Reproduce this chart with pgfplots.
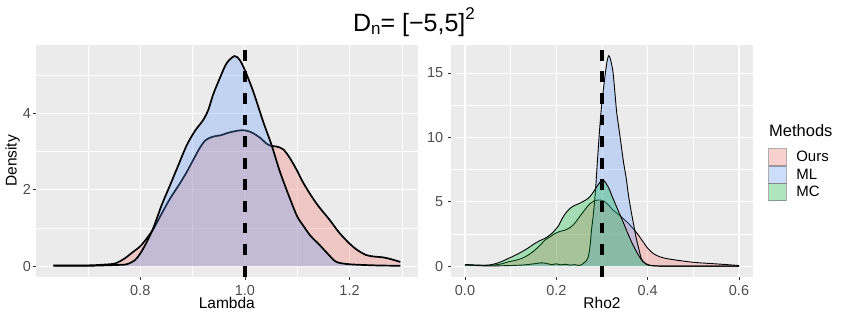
\documentclass[border=0pt]{standalone}
\usepackage{pgfplots}
\pgfplotsset{compat=1.18}
\usepackage{pgfplotstable}
\usepackage{fontspec}
\setmainfont{Liberation Sans}
\definecolor{oursc}{HTML}{F8766D}
\definecolor{mlc}{HTML}{619CFF}
\definecolor{mcc}{HTML}{00BA38}
\definecolor{panelbg}{HTML}{EBEBEB}
\definecolor{ticklab}{HTML}{4D4D4D}
\definecolor{tickc}{HTML}{333333}

\pgfplotstableread{
x y
0.634 0.02
0.70 0.02
0.73 0.04
0.752 0.07
0.77 0.20
0.785 0.36
0.80 0.52
0.812 0.72
0.825 0.97
0.84 1.35
0.857 1.77
0.875 2.15
0.889 2.47
0.90 2.75
0.914 3.10
0.925 3.30
0.939 3.39
0.955 3.43
0.965 3.48
0.98 3.53
0.994 3.56
1.005 3.54
1.016 3.48
1.03 3.35
1.041 3.21
1.05 3.15
1.061 3.13
1.073 3.06
1.085 2.85
1.099 2.52
1.11 2.22
1.124 1.90
1.14 1.58
1.162 1.21
1.18 0.88
1.20 0.59
1.215 0.42
1.232 0.29
1.248 0.25
1.264 0.23
1.28 0.18
1.297 0.11
}\oursL

\pgfplotstableread{
x y
0.634 0.01
0.70 0.01
0.752 0.03
0.774 0.05
0.79 0.16
0.80 0.33
0.812 0.62
0.825 1.00
0.841 1.60
0.857 2.12
0.873 2.65
0.889 3.17
0.905 3.55
0.92 3.82
0.93 4.09
0.939 4.48
0.952 4.92
0.965 5.31
0.98 5.50
0.99 5.40
1.00 5.13
1.016 4.57
1.035 3.78
1.051 3.17
1.067 2.47
1.086 1.77
1.10 1.30
1.111 1.07
1.125 0.80
1.143 0.55
1.16 0.30
1.175 0.11
1.20 0.05
1.25 0.02
1.297 0.01
}\mlL

\pgfplotstableread{
x y
0.0 0.10
0.03 0.06
0.06 0.08
0.08 0.18
0.095 0.34
0.11 0.45
0.124 0.60
0.14 0.90
0.153 1.25
0.165 1.65
0.175 2.02
0.187 2.30
0.197 2.54
0.208 2.70
0.219 2.80
0.23 3.00
0.240 3.32
0.25 3.80
0.262 4.36
0.272 4.80
0.284 5.09
0.295 5.14
0.302 5.10
0.313 4.80
0.324 4.36
0.335 4.05
0.346 3.71
0.357 3.35
0.368 2.93
0.379 2.45
0.39 1.89
0.40 1.40
0.412 0.99
0.425 0.75
0.44 0.60
0.463 0.47
0.50 0.30
0.536 0.21
0.57 0.13
0.60 0.05
}\oursR

\pgfplotstableread{
x y
0.0 0.08
0.05 0.02
0.10 0.05
0.13 0.10
0.15 0.18
0.168 0.26
0.18 0.20
0.19 0.12
0.20 0.18
0.21 0.10
0.22 0.15
0.23 0.08
0.24 0.12
0.25 0.05
0.259 0.21
0.265 0.40
0.27 0.73
0.274 1.60
0.277 2.80
0.281 4.00
0.286 6.00
0.29 8.20
0.295 10.72
0.30 12.80
0.306 14.60
0.311 15.90
0.315 16.36
0.319 16.00
0.324 15.10
0.328 13.60
0.332 12.00
0.337 10.70
0.342 9.42
0.347 8.10
0.353 6.83
0.358 5.50
0.364 4.23
0.37 3.10
0.375 2.16
0.381 1.30
0.386 0.60
0.392 0.30
0.397 0.13
0.41 0.03
0.45 0.00
0.60 0.00
}\mlR

\pgfplotstableread{
x y
0.0 0.13
0.03 0.08
0.051 0.08
0.073 0.26
0.095 0.60
0.11 0.85
0.124 1.11
0.14 1.45
0.153 1.77
0.165 2.00
0.175 2.16
0.187 2.45
0.197 2.80
0.205 3.15
0.211 3.58
0.22 4.10
0.23 4.49
0.24 4.72
0.251 4.88
0.26 5.05
0.27 5.27
0.278 5.60
0.284 5.92
0.293 6.40
0.302 6.70
0.313 6.20
0.324 5.27
0.335 4.35
0.346 3.45
0.357 2.50
0.368 1.64
0.38 0.85
0.39 0.34
0.404 0.08
0.42 0.02
0.45 0.00
0.60 0.00
}\mcR

\pgfplotsset{ggstyle/.style={
  scale only axis, height=231.7bp,
  axis background/.style={fill=panelbg},
  axis line style={draw=none},
  grid=both,
  major grid style={white, line width=1.1bp},
  minor grid style={white, line width=0.55bp},
  tick align=outside,
  major tick length=3.5bp,
  minor tick length=0pt,
  tick style={tickc, line width=0.8bp},
  xtick pos=bottom, ytick pos=left,
  tick label style={font=\fontsize{14.5bp}{14.5bp}\selectfont, text=ticklab},
  xticklabel style={anchor=north, yshift=-1.5bp},
  yticklabel style={anchor=east, xshift=-1bp},
  label style={font=\fontsize{15.5bp}{15.5bp}\selectfont, text=black},
  xlabel style={at={(axis description cs:0.5,-0.1364)}, anchor=base},
}}

\begin{document}
\begin{tikzpicture}
\useasboundingbox (0,0) rectangle (847bp,318bp);

\begin{axis}[ggstyle, at={(36bp,41.3bp)}, anchor=south west, width=381.7bp,
  xmin=0.6008, xmax=1.3302, ymin=-0.276, ymax=5.79,
  xtick={0.8,1.0,1.2}, xticklabels={0.8,1.0,1.2},
  minor xtick={0.7,0.9,1.1,1.3},
  ytick={0,2,4}, yticklabels={0,2,4},
  minor ytick={1,3,5},
  yticklabel style={anchor=east, xshift=3bp},
  xlabel={Lambda},
]
\addplot[fill=oursc, fill opacity=0.3, draw=none, smooth, forget plot] table {\oursL} \closedcycle;
\addplot[black, line width=1.7bp, smooth, forget plot] table {\oursL};
\addplot[fill=mlc, fill opacity=0.3, draw=none, smooth, forget plot] table {\mlL} \closedcycle;
\addplot[black, line width=1.7bp, smooth, forget plot] table {\mlL};
\addplot[black, line width=3.2bp, dash pattern=on 10.8bp off 10.8bp, forget plot] coordinates {(1.0,-0.276) (1.0,5.79)};
\end{axis}

\begin{axis}[ggstyle, at={(451.3bp,41.3bp)}, anchor=south west, width=301.4bp,
  xmin=-0.03, xmax=0.63, ymin=-0.818, ymax=17.18,
  xtick={0,0.2,0.4,0.6}, xticklabels={0.0,0.2,0.4,0.6},
  minor xtick={0.1,0.3,0.5},
  ytick={0,5,10,15}, yticklabels={0,5,10,15},
  minor ytick={2.5,7.5,12.5},
  xlabel={Rho2},
  legend style={at={(axis description cs:1.0518,0.5542)}, anchor=north west,
    draw=none, fill=none, inner sep=0pt, outer sep=0pt,
    row sep=0pt, column sep=9.7bp,
    font=\fontsize{15bp}{15bp}\selectfont,
    nodes={inner sep=0pt}},
  legend cell align=left,
  legend image code/.code={\fill[panelbg] (0bp,-8.5bp) rectangle (17.7bp,8.5bp);
     \filldraw[#1] (0bp,-8.5bp) rectangle (17.7bp,8.5bp);},
]
\addplot[fill=oursc, fill opacity=0.3, draw=none, smooth, forget plot] table {\oursR} \closedcycle;
\addplot[black, line width=0.9bp, smooth, forget plot] table {\oursR};
\addplot[fill=mlc, fill opacity=0.3, draw=none, smooth, forget plot] table {\mlR} \closedcycle;
\addplot[black, line width=0.9bp, smooth, forget plot] table {\mlR};
\addplot[fill=mcc, fill opacity=0.3, draw=none, smooth, forget plot] table {\mcR} \closedcycle;
\addplot[black, line width=0.9bp, smooth, forget plot] table {\mcR};
\addplot[black, line width=3.2bp, dash pattern=on 10.8bp off 10.8bp, forget plot] coordinates {(0.3,-0.818) (0.3,17.18)};
\addlegendimage{fill=oursc, fill opacity=0.3, draw=black, draw opacity=0.3, line width=0.6bp}
\addlegendentry{Ours}
\addlegendimage{fill=mlc, fill opacity=0.3, draw=black, draw opacity=0.3, line width=0.6bp}
\addlegendentry{ML}
\addlegendimage{fill=mcc, fill opacity=0.3, draw=black, draw opacity=0.3, line width=0.6bp}
\addlegendentry{MC}
\end{axis}

\node[anchor=base, rotate=90, inner sep=0pt, font=\fontsize{15.5bp}{15.5bp}\selectfont] at (16.5bp,157.2bp) {Density};
\node[anchor=base west, inner sep=0pt, font=\fontsize{16.5bp}{16.5bp}\selectfont] at (769bp,181.3bp) {Methods};
\node[anchor=base, inner sep=0pt, font=\fontsize{25bp}{25bp}\selectfont] at (414bp,286.3bp)
  {D\raisebox{-3bp}{\fontsize{17bp}{17bp}\selectfont n}= [−5,5]\raisebox{12bp}{\fontsize{17bp}{17bp}\selectfont 2}};
\end{tikzpicture}
\end{document}
